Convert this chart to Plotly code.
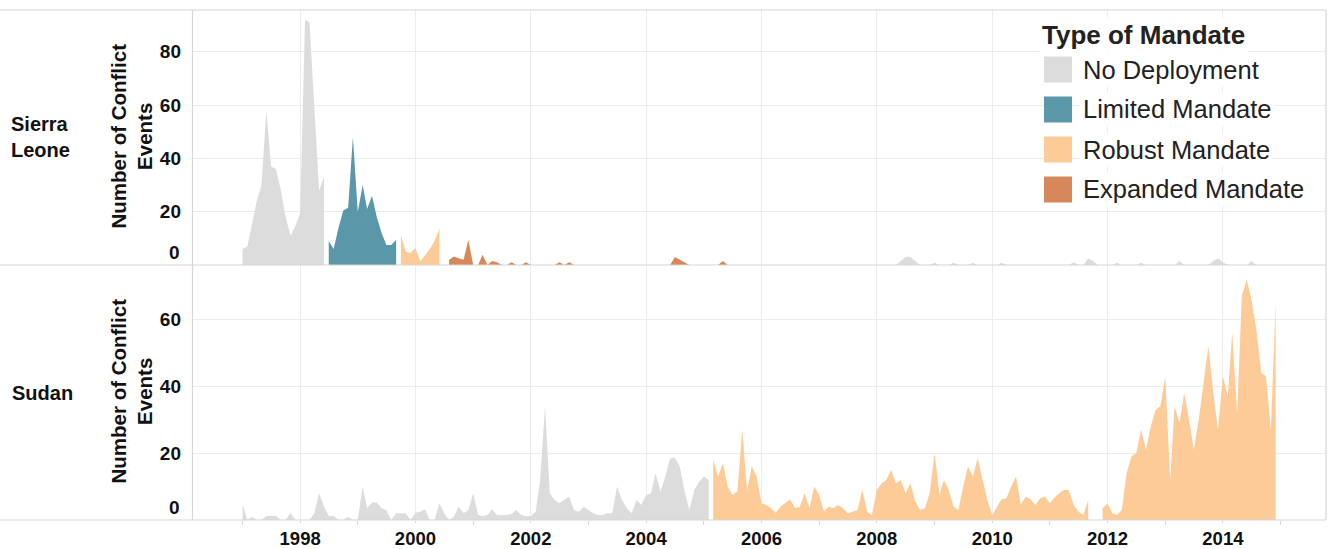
import plotly.graph_objects as go

# ---------------- data ----------------
YEARS = list(range(1997, 2015))
MONTHS = [f"{y}-{m:02d}-01" for y in YEARS for m in range(1, 13)]

CATEGORIES = ["No Deployment", "Limited Mandate", "Robust Mandate", "Expanded Mandate"]
COLORS = {
    "No Deployment": "#dcdcdc",
    "Limited Mandate": "#5a97a8",
    "Robust Mandate": "#fccb98",
    "Expanded Mandate": "#d6885a",
}

N = None
# monthly number of conflict events, Jan 1997 .. Dec 2014 (one row per year)
sierra_leone_events = [
    6, 7, 15, 24, 30, 58, 37, 36, 28, 18, 11, 14.5,          # 1997
    19.5, 92, 91, 59, 28, 33, 9, 6, 14, 20.5, 21.5, 48,      # 1998
    20, 30, 21, 26, 18, 12, 7.5, 7.5, 9.5, 11.3, 5, 4.5,     # 1999
    6.4, 1.3, 3.5, 6, 9, 13.6, N, 2, 3.2, 2.5, 2, 9.4,       # 2000
    0, 0, 3.8, 0, 1.5, 1, 0, 0, 1, 0, 0, 1,                  # 2001
    0, 0, 0, 0, 0, 0, 1, 0, 1, 0, 0, 0,                      # 2002
    0, 0, 0, 0, 0, 0, 0, 0, 0, 0, 0, 0,                      # 2003
    0, 0, 0, 0, 0, 0, 3, 2, 1, 0, 0, 0,                      # 2004
    0, 0, 0, 0, 1.5, 0, 0, 0, 0, 0, 0, 0,                    # 2005
    0, 0, 0, 0, 0, 0, 0, 0, 0, 0, 0, 0,                      # 2006
    0, 0, 0, 0, 0, 0, 0, 0, 0, 0, 0, 0,                      # 2007
    0, 0, 0, 0, 0, 1.5, 3, 3, 1.5, 0, 0, 0,                  # 2008
    0.8, 0, 0, 0, 0.8, 0, 0, 0, 0.8, 0, 0, 0,                # 2009
    0, 0, 0.8, 0, 0, 0, 0, 0, 0, 0, 0, 0,                    # 2010
    0, 0, 0, 0, 0, 1, 0, 0, 2.5, 1.5, 0, 0,                  # 2011
    0, 0, 0.8, 0, 0, 0, 0, 0.8, 0, 0, 0, 0,                  # 2012
    0, 0, 0, 1.5, 0, 0, 0, 0, 0, 0, 1.5, 2.5,                # 2013
    1, 0, 0, 0, 0, 0, 1.5, 0, 0, 0, 0, 0,                    # 2014
]

sudan_events = [
    4.5, 0, 1, 0, 0, 1.2, 1.2, 1.2, 0, 0, 2.2, 0,            # 1997
    0, 0, 0, 2, 8, 4, 1.2, 1.2, 0, 0, 1, 0,                  # 1998
    0, 10, 3.5, 5.2, 5.2, 3.5, 3, 0, 2, 2, 2, 0,             # 1999
    2.2, 2.5, 3.2, 0, 0, 5, 2, 0, 1, 4, 2, 3,                # 2000
    8, 1.5, 1.2, 1.5, 3.2, 1.5, 1.5, 1.5, 1.8, 3, 1.5, 1.2,  # 2001
    1.2, 2.5, 12, 34, 8, 6, 5, 6, 7, 3, 2.5, 4,              # 2002
    3, 2, 1.5, 1.5, 2, 2, 10, 6, 3.5, 2, 6, 4.5,             # 2003
    7.5, 8, 14, 8.5, 13, 18.4, 18.7, 16, 8.5, 3, 9, 11.4,    # 2004
    13, 12, 18, 13, 17, 10, 7.5, 8.5, 27, 9, 16, 13,         # 2005
    5, 4.5, 3.5, 2.2, 4, 5.2, 6.2, 3.5, 4, 8, 3.5, 10,       # 2006
    7.5, 2.5, 4, 3.5, 4.5, 3.5, 2, 2.5, 3, 9, 2.5, 1.5,      # 2007
    9, 11, 12, 15, 11, 12, 8, 11, 5.5, 3, 3.5, 8,            # 2008
    20, 7.5, 12, 9, 4, 3, 10, 16, 13, 18.5, 12, 6,           # 2009
    1.5, 4, 6.2, 6.5, 10, 13, 4.5, 7, 6.2, 4.5, 6.5, 7,      # 2010
    5, 6.8, 8, 9, 9, 4.5, 2.5, 1.5, 6, N, N, 3.5,            # 2011
    5, 2, 1.5, 3, 14, 19, 20, 27, 21, 28, 33, 34,            # 2012
    43, 12, 34, 29, 38, 30, 21, 30, 41, 52, 38, 27,          # 2013
    43, 37, 56, 32, 67, 72, 66, 57, 44, 43, 27, 65,          # 2014
]

sierra_leone_periods = [
    ("1997-01-01", "1998-06-01", "No Deployment"),
    ("1998-07-01", "1999-09-01", "Limited Mandate"),
    ("1999-10-01", "2000-06-01", "Robust Mandate"),
    ("2000-08-01", "2005-12-01", "Expanded Mandate"),
    ("2006-01-01", "2014-12-01", "No Deployment"),
]
sudan_periods = [
    ("1997-01-01", "2005-02-01", "No Deployment"),
    ("2005-03-01", "2014-12-01", "Robust Mandate"),
]

Y_TICKS_TOP = [20, 40, 60, 80]
Y_TICKS_BOTTOM = [20, 40, 60]
ROW_LABELS = ["Sierra<br>Leone", "Sudan"]
Y_TITLE = "Number of Conflict<br>Events"
LEGEND_TITLE = "Type of Mandate"

# ---------------- geometry helpers ----------------
W, H = 1328, 549
ML, MR, MT, MB = 192, 2, 10, 29
PW, PH = W - ML - MR, H - MT - MB


def fx(px):
    return (px - ML) / PW


def fy(py):
    return (H - MB - py) / PH


FONT = "Liberation Sans, Arial, sans-serif"
BORDER = "#d6d6d6"
GRID = "#ececec"

fig = go.Figure()


def add_segment(xs, ys, cat, xa, ya):
    fig.add_trace(go.Scatter(x=xs, y=ys, mode="lines", fill="tozeroy",
                             line=dict(width=0, color=COLORS[cat]),
                             fillcolor=COLORS[cat], xaxis=xa, yaxis=ya,
                             showlegend=False, hoverinfo="skip"))


def add_country(values, periods, xa, ya):
    for start, end, cat in periods:
        seg_x, seg_y = [], []
        for m, v in zip(MONTHS, values):
            if not (start <= m <= end):
                continue
            if v is None:
                if seg_x:
                    add_segment(seg_x, seg_y, cat, xa, ya)
                seg_x, seg_y = [], []
                continue
            seg_x.append(m)
            seg_y.append(v)
        if seg_x:
            add_segment(seg_x, seg_y, cat, xa, ya)


add_country(sierra_leone_events, sierra_leone_periods, "x2", "y2")
add_country(sudan_events, sudan_periods, "x", "y")

X_RANGE = ["1996-02-16", "2015-10-16"]
tickfont = dict(family=FONT, size=19, color="#111111", weight="bold")
xtickfont = dict(family=FONT, size=18.5, color="#111111", weight="bold")

fig.update_layout(
    template="none",
    width=W, height=H, autosize=False,
    margin=dict(l=ML, r=MR, t=MT, b=MB, pad=0, autoexpand=False),
    paper_bgcolor="white", plot_bgcolor="white",
    showlegend=False,
    font=dict(family=FONT, color="#111111"),
    xaxis=dict(domain=[0, 1], anchor="y", type="date", range=X_RANGE, automargin=False,
               tick0="1998-01-01", dtick="M24", tickformat="%Y",
               showgrid=True, gridcolor=GRID, gridwidth=1,
               ticks="outside", ticklen=2, tickcolor=BORDER,
               minor=dict(dtick="M12", tick0="1997-01-01", ticks="outside", ticklen=4,
                          tickcolor=BORDER, showgrid=False),
               tickfont=xtickfont, showline=False, zeroline=False),
    xaxis2=dict(domain=[0, 1], anchor="y2", type="date", range=X_RANGE, matches="x",
                automargin=False, tick0="1998-01-01", dtick="M24", showticklabels=False,
                showgrid=True, gridcolor=GRID, ticks="", showline=False, zeroline=False),
    yaxis=dict(domain=[0, 0.5], anchor="x", range=[0, 76.3], automargin=False,
               tickvals=Y_TICKS_BOTTOM, showgrid=True, gridcolor=GRID,
               ticks="", ticklabelstandoff=10, tickfont=tickfont,
               zeroline=False, showline=False),
    yaxis2=dict(domain=[0.5, 1], anchor="x2", range=[0, 95.7], automargin=False,
                tickvals=Y_TICKS_TOP, showgrid=True, gridcolor=GRID,
                ticks="", ticklabelstandoff=10, tickfont=tickfont,
                zeroline=False, showline=False),
)

shapes = []
# horizontal rules spanning row header + panels
for py in (MT, MT + PH / 2, H - MB):
    shapes.append(dict(type="line", xref="paper", yref="paper", x0=fx(0), x1=1,
                       y0=fy(py), y1=fy(py), line=dict(color=BORDER, width=1.2)))
for px in (ML + 0.5, W - MR):
    shapes.append(dict(type="line", xref="paper", yref="paper", x0=fx(px), x1=fx(px),
                       y0=0, y1=1, line=dict(color=BORDER, width=1.2)))

annotations = []
# row headers
annotations.append(dict(text="<b>" + ROW_LABELS[0] + "</b>", xref="paper", yref="paper",
                        x=fx(9), y=fy(137), xanchor="left", yanchor="middle", align="left",
                        showarrow=False, font=dict(family=FONT, size=20, color="#111111")))
annotations.append(dict(text="<b>" + ROW_LABELS[1] + "</b>", xref="paper", yref="paper",
                        x=fx(10), y=fy(393), xanchor="left", yanchor="middle", align="left",
                        showarrow=False, font=dict(family=FONT, size=20, color="#111111")))
# y axis titles
for cy in (136, 391):
    annotations.append(dict(text="<b>" + Y_TITLE + "</b>", xref="paper", yref="paper",
                            x=fx(131.5), y=fy(cy), xanchor="center", yanchor="middle",
                            textangle=-90, showarrow=False,
                            font=dict(family=FONT, size=20.5, color="#111111")))
# zero tick labels (drawn just above the baseline, as in the original)
for ya in ("y2", "y"):
    annotations.append(dict(text="<b>0</b>", xref="paper", yref=ya, x=fx(182), y=0,
                            xanchor="right", yanchor="bottom", showarrow=False, yshift=0,
                            font=dict(family=FONT, size=19, color="#111111")))

# legend
annotations.append(dict(text="<b>" + LEGEND_TITLE + "</b>", xref="paper", yref="paper",
                        x=fx(1039), y=fy(35), xanchor="left", yanchor="middle",
                        showarrow=False, bgcolor="white", borderpad=2,
                        font=dict(family=FONT, size=26, color="#222222")))
for k, cat in enumerate(CATEGORIES):
    cy = 69.5 + 40 * k
    shapes.append(dict(type="rect", xref="paper", yref="paper",
                       x0=fx(1044), x1=fx(1072), y0=fy(cy + 13), y1=fy(cy - 13),
                       fillcolor=COLORS[cat], line=dict(width=0), layer="above"))
    annotations.append(dict(text=cat, xref="paper", yref="paper",
                            x=fx(1080), y=fy(cy), xanchor="left", yanchor="middle",
                            showarrow=False, bgcolor="white", borderpad=2,
                            font=dict(family=FONT, size=25.5, color="#222222")))

fig.update_layout(shapes=shapes, annotations=annotations)
fig.write_html("out.html", config={"displayModeBar": False},
               post_script="document.body.style.margin='0';document.body.style.overflow='hidden';")
